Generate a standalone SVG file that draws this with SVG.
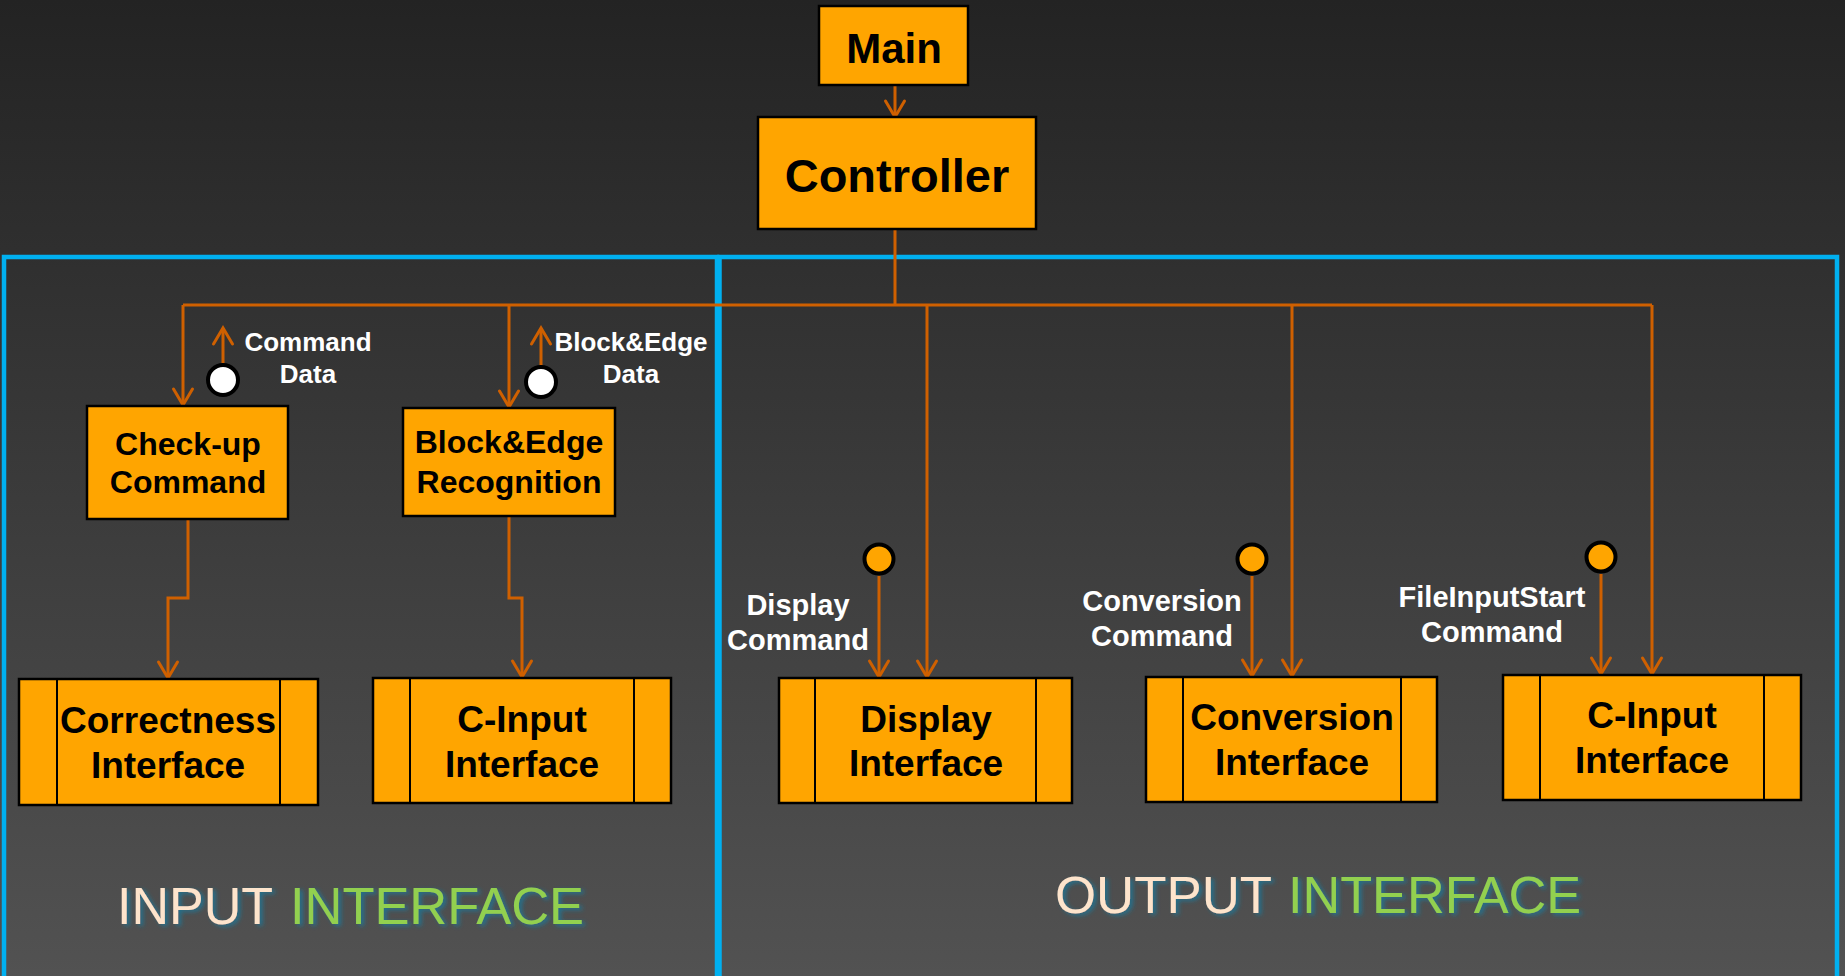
<svg xmlns="http://www.w3.org/2000/svg" width="1845" height="976" viewBox="0 0 1845 976">
<defs>
<linearGradient id="bg" x1="0" y1="0" x2="0" y2="1">
<stop offset="0" stop-color="#232323"/>
<stop offset="1" stop-color="#525252"/>
</linearGradient>
<marker id="arr" viewBox="-19 -12 22 24" markerWidth="22" markerHeight="24" refX="0" refY="0" orient="auto" markerUnits="userSpaceOnUse">
<path d="M-16,-9.5 L0,0 L-16,9.5" fill="none" stroke="#cf6000" stroke-width="3" stroke-linecap="round" stroke-linejoin="miter"/>
</marker>
<filter id="glow" x="-10%" y="-30%" width="120%" height="160%">
<feDropShadow dx="3" dy="2" stdDeviation="2" flood-color="#1e7594" flood-opacity="0.9"/>
</filter>
</defs>
<style>
.box{fill:#ffa500;stroke:#000;stroke-width:2.5}
.sep{stroke:#000;stroke-width:2}
.frame{fill:none;stroke:#00b0f0;stroke-width:4.5}
.con{fill:none;stroke:#cf6000;stroke-width:3}
.arr{marker-end:url(#arr)}
.t{font-family:"Liberation Sans",Arial,sans-serif;font-weight:bold;fill:#000;text-anchor:middle}
.lbl{font-family:"Liberation Sans",Arial,sans-serif;font-weight:bold;fill:#fff;text-anchor:middle}
.title{font-family:"Liberation Sans",Arial,sans-serif;font-size:52px}
.w{fill:#fff;stroke:#000;stroke-width:4}
.o{fill:#ffa500;stroke:#000;stroke-width:4}
</style>
<rect x="0" y="0" width="1845" height="976" fill="url(#bg)"/>

<g id="frames">
<rect class="frame" x="4" y="257" width="713" height="760"/>
<rect class="frame" x="719.5" y="257" width="1117.5" height="760"/>
</g>

<g id="connectors">
<path class="con arr" d="M895,85 V117"/>
<path class="con" d="M895,229 V305 M183,305 H1652"/>
<path class="con arr" d="M183,305 V405"/>
<path class="con arr" d="M509,305 V407"/>
<path class="con arr" d="M927,305 V677"/>
<path class="con arr" d="M1292,305 V676"/>
<path class="con arr" d="M1652,305 V674"/>
<path class="con arr" d="M188,519 V598 H168 V678"/>
<path class="con arr" d="M509,516 V598 H522 V677"/>
<path class="con arr" d="M223,363 V328"/>
<path class="con arr" d="M541,365 V328"/>
<path class="con arr" d="M879,576 V677"/>
<path class="con arr" d="M1252,576 V676"/>
<path class="con arr" d="M1601,574 V674"/>
</g>

<g id="main">
<rect class="box" x="819" y="6" width="149" height="79"/>
<text class="t" x="894" y="63" font-size="42">Main</text>
</g>
<g id="controller">
<rect class="box" x="758" y="117" width="278" height="112"/>
<text class="t" x="897" y="192" font-size="47">Controller</text>
</g>

<g id="checkup">
<rect class="box" x="87" y="406" width="201" height="113"/>
<text class="t" x="188" y="455" font-size="32">Check-up</text>
<text class="t" x="188" y="493" font-size="32">Command</text>
</g>
<g id="blockedge">
<rect class="box" x="403" y="408" width="212" height="108"/>
<text class="t" x="509" y="453" font-size="32">Block&amp;Edge</text>
<text class="t" x="509" y="493" font-size="32">Recognition</text>
</g>

<g id="command-data">
<circle class="w" cx="223" cy="380" r="15"/>
<text class="lbl" x="308" y="351" font-size="26">Command</text>
<text class="lbl" x="308" y="383" font-size="26">Data</text>
</g>
<g id="blockedge-data">
<circle class="w" cx="541" cy="382" r="15"/>
<text class="lbl" x="631" y="351" font-size="26">Block&amp;Edge</text>
<text class="lbl" x="631" y="383" font-size="26">Data</text>
</g>

<g id="correctness">
<rect class="box" x="19" y="679" width="299" height="126"/>
<line class="sep" x1="57" y1="679" x2="57" y2="805"/>
<line class="sep" x1="280" y1="679" x2="280" y2="805"/>
<text class="t" x="168" y="733" font-size="37">Correctness</text>
<text class="t" x="168" y="778" font-size="37">Interface</text>
</g>
<g id="cinput-left">
<rect class="box" x="373" y="678" width="298" height="125"/>
<line class="sep" x1="410" y1="678" x2="410" y2="803"/>
<line class="sep" x1="634" y1="678" x2="634" y2="803"/>
<text class="t" x="522" y="732" font-size="37">C-Input</text>
<text class="t" x="522" y="777" font-size="37">Interface</text>
</g>
<g id="display">
<rect class="box" x="779" y="678" width="293" height="125"/>
<line class="sep" x1="815" y1="678" x2="815" y2="803"/>
<line class="sep" x1="1036" y1="678" x2="1036" y2="803"/>
<text class="t" x="926" y="732" font-size="37">Display</text>
<text class="t" x="926" y="776" font-size="37">Interface</text>
</g>
<g id="conversion">
<rect class="box" x="1146" y="677" width="291" height="125"/>
<line class="sep" x1="1183" y1="677" x2="1183" y2="802"/>
<line class="sep" x1="1401" y1="677" x2="1401" y2="802"/>
<text class="t" x="1292" y="730" font-size="37">Conversion</text>
<text class="t" x="1292" y="775" font-size="37">Interface</text>
</g>
<g id="cinput-right">
<rect class="box" x="1503" y="675" width="298" height="125"/>
<line class="sep" x1="1540" y1="675" x2="1540" y2="800"/>
<line class="sep" x1="1764" y1="675" x2="1764" y2="800"/>
<text class="t" x="1652" y="728" font-size="37">C-Input</text>
<text class="t" x="1652" y="773" font-size="37">Interface</text>
</g>

<g id="display-command">
<circle class="o" cx="879" cy="559" r="14.5"/>
<text class="lbl" x="798" y="615" font-size="29">Display</text>
<text class="lbl" x="798" y="650" font-size="29">Command</text>
</g>
<g id="conversion-command">
<circle class="o" cx="1252" cy="559" r="14.5"/>
<text class="lbl" x="1162" y="611" font-size="29">Conversion</text>
<text class="lbl" x="1162" y="646" font-size="29">Command</text>
</g>
<g id="fileinputstart-command">
<circle class="o" cx="1601" cy="557" r="14.5"/>
<text class="lbl" x="1492" y="607" font-size="29">FileInputStart</text>
<text class="lbl" x="1492" y="642" font-size="29">Command</text>
</g>

<g id="input-title" filter="url(#glow)">
<text class="title" x="117" y="924" fill="#fde4cc" textLength="156" lengthAdjust="spacingAndGlyphs">INPUT</text>
<text class="title" x="290" y="924" fill="#92d050" textLength="294" lengthAdjust="spacingAndGlyphs">INTERFACE</text>
</g>
<g id="output-title" filter="url(#glow)">
<text class="title" x="1055" y="913" fill="#fde4cc" font-size="54" textLength="217" lengthAdjust="spacingAndGlyphs">OUTPUT</text>
<text class="title" x="1288" y="913" fill="#92d050" font-size="54" textLength="293" lengthAdjust="spacingAndGlyphs">INTERFACE</text>
</g>
</svg>
